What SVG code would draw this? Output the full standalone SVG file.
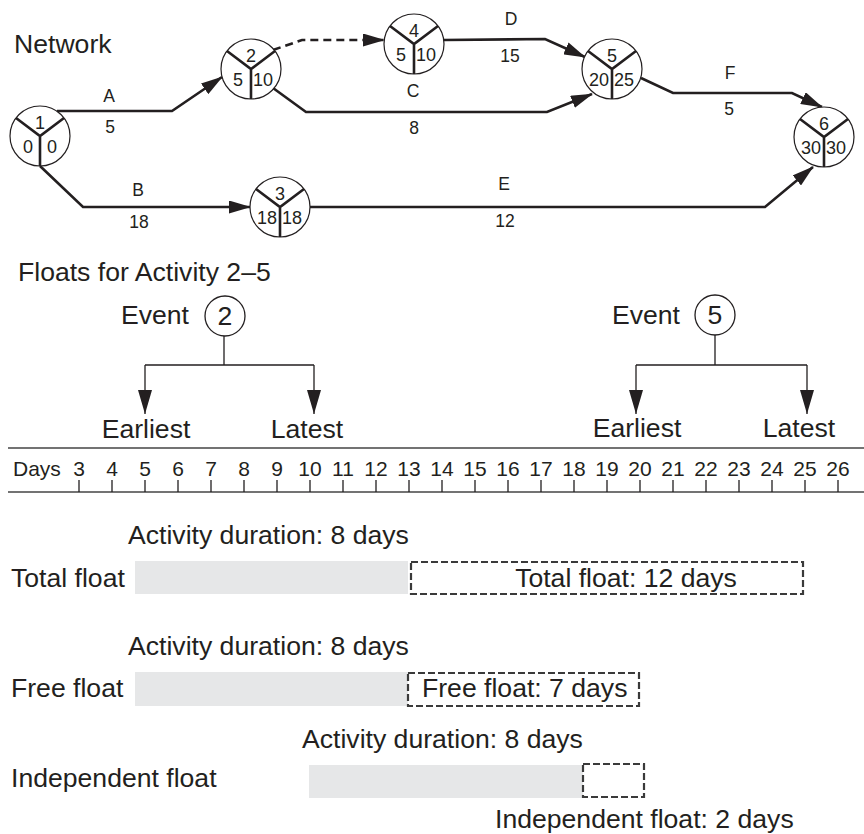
<svg xmlns="http://www.w3.org/2000/svg" width="864" height="834" viewBox="0 0 864 834">
<style>
text{font-family:"Liberation Sans",Arial,sans-serif;fill:#231f20}
.n{font-size:18px;text-anchor:middle}
.l{font-size:17.5px;text-anchor:middle}
.big{font-size:26.6px}
.mid{text-anchor:middle}
.day{font-size:21px;text-anchor:middle}
.circ{fill:#fff;stroke:#231f20;stroke-width:1.2}
.arm{stroke:#231f20;stroke-width:2.6;fill:none}
.con{stroke:#231f20;stroke-width:2.6;fill:none;marker-end:url(#ah)}
.thin{stroke:#231f20;stroke-width:1.3;fill:none}
.tarr{stroke:#231f20;stroke-width:1.3;fill:none;marker-end:url(#ah2)}
.bar{fill:#e6e7e8}
.dash{fill:none;stroke:#3a3a3a;stroke-width:2.2;stroke-dasharray:7,3}
.axis{stroke:#444;stroke-width:1.5}
</style>
<defs>
<marker id="ah" viewBox="0 0 22 13" refX="21" refY="6.5" markerWidth="22" markerHeight="13" markerUnits="userSpaceOnUse" orient="auto"><path d="M0,0 L22,6.5 L0,13 z" fill="#231f20"/></marker>
<marker id="ah2" viewBox="0 0 24 14" refX="24" refY="7" markerWidth="24" markerHeight="14" markerUnits="userSpaceOnUse" orient="auto"><path d="M0,0 L24,7 L0,14 z" fill="#231f20"/></marker>
<g id="nodeshape"><circle r="30" class="circ"/><path class="arm" d="M-24,-18 L0,0 L24,-18 M0,0 L0,30"/></g>
</defs>

<text class="big" x="14" y="53">Network</text>

<g id="connectors">
<path class="con" d="M57,111 L172,111 L222,77"/>
<path class="con" d="M40,166 L83,207 L250,207"/>
<path class="con" d="M273,50 L302,40 L384,40" stroke-dasharray="8,5"/>
<path class="con" d="M273,88 L306,112 L547,112 L592,94"/>
<path class="con" d="M444,40 L545,39 L585,57"/>
<path class="con" d="M310,207 L765,207 L813,167"/>
<path class="con" d="M641,78 L673,93 L792,93 L822,107"/>
</g>

<g id="connector-labels">
<text class="l" x="109" y="102">A</text><text class="l" x="110" y="133">5</text>
<text class="l" x="138" y="196">B</text><text class="l" x="139" y="228">18</text>
<text class="l" x="413" y="97">C</text><text class="l" x="414" y="134">8</text>
<text class="l" x="511" y="25">D</text><text class="l" x="510" y="62">15</text>
<text class="l" x="504" y="190">E</text><text class="l" x="505" y="227">12</text>
<text class="l" x="730" y="79">F</text><text class="l" x="729" y="115">5</text>
</g>

<g id="node1" transform="translate(40,136)"><use href="#nodeshape"/><text class="n" x="0" y="-7">1</text><text class="n" x="-12" y="17">0</text><text class="n" x="12" y="17">0</text></g>
<g id="node2" transform="translate(251,69)"><use href="#nodeshape"/><text class="n" x="0" y="-7">2</text><text class="n" x="-13" y="17">5</text><text class="n" x="12" y="17">10</text></g>
<g id="node3" transform="translate(280,207)"><use href="#nodeshape"/><text class="n" x="0" y="-7">3</text><text class="n" x="-13" y="17">18</text><text class="n" x="12" y="17">18</text></g>
<g id="node4" transform="translate(414,44)"><use href="#nodeshape"/><text class="n" x="0" y="-7">4</text><text class="n" x="-13" y="17">5</text><text class="n" x="12" y="17">10</text></g>
<g id="node5" transform="translate(612,69)"><use href="#nodeshape"/><text class="n" x="0" y="-7">5</text><text class="n" x="-13" y="17">20</text><text class="n" x="12" y="17">25</text></g>
<g id="node6" transform="translate(824,137)"><use href="#nodeshape"/><text class="n" x="0" y="-7">6</text><text class="n" x="-13" y="17">30</text><text class="n" x="12" y="17">30</text></g>

<text class="big" x="18" y="281">Floats for Activity 2–5</text>

<g id="event2">
<text class="big" x="121" y="324">Event</text>
<circle cx="225" cy="316" r="20" class="thin" fill="#fff"/>
<text class="big mid" x="225" y="325">2</text>
<path class="thin" d="M224,336 L224,365 M145,365 L314,365"/>
<path class="tarr" d="M145,365 L145,414"/>
<path class="tarr" d="M314,365 L314,414"/>
<text class="big mid" x="146" y="438">Earliest</text>
<text class="big mid" x="307" y="438">Latest</text>
</g>

<g id="event5">
<text class="big" x="612" y="324">Event</text>
<circle cx="715" cy="315" r="20" class="thin" fill="#fff"/>
<text class="big mid" x="715" y="324">5</text>
<path class="thin" d="M715,335 L715,365 M636,365 L807,365"/>
<path class="tarr" d="M636,365 L636,414"/>
<path class="tarr" d="M807,365 L807,414"/>
<text class="big mid" x="637" y="437">Earliest</text>
<text class="big mid" x="799" y="437">Latest</text>
</g>

<g id="scale">
<line class="axis" x1="8" y1="448" x2="864" y2="448"/>
<line class="axis" x1="8" y1="492" x2="864" y2="492"/>
<text x="13" y="476" style="font-size:21px">Days</text>
<path class="thin" d="M79,480V492 M112,480V492 M145,480V492 M178,480V492 M211,480V492 M244,480V492 M277,480V492 M310,480V492 M343,480V492 M376,480V492 M409,480V492 M442,480V492 M475,480V492 M508,480V492 M541,480V492 M574,480V492 M607,480V492 M640,480V492 M673,480V492 M706,480V492 M739,480V492 M772,480V492 M805,480V492 M838,480V492"/>
<text class="day" x="79" y="476">3</text><text class="day" x="112" y="476">4</text><text class="day" x="145" y="476">5</text><text class="day" x="178" y="476">6</text><text class="day" x="211" y="476">7</text><text class="day" x="244" y="476">8</text><text class="day" x="277" y="476">9</text><text class="day" x="310" y="476">10</text><text class="day" x="343" y="476">11</text><text class="day" x="376" y="476">12</text><text class="day" x="409" y="476">13</text><text class="day" x="442" y="476">14</text><text class="day" x="475" y="476">15</text><text class="day" x="508" y="476">16</text><text class="day" x="541" y="476">17</text><text class="day" x="574" y="476">18</text><text class="day" x="607" y="476">19</text><text class="day" x="640" y="476">20</text><text class="day" x="673" y="476">21</text><text class="day" x="706" y="476">22</text><text class="day" x="739" y="476">23</text><text class="day" x="772" y="476">24</text><text class="day" x="805" y="476">25</text><text class="day" x="838" y="476">26</text>
</g>

<g id="total-float">
<text class="big" x="128" y="544">Activity duration: 8 days</text>
<text class="big" x="11" y="587">Total float</text>
<rect class="bar" x="135" y="561" width="273" height="33"/>
<rect class="dash" x="411" y="562" width="392" height="32"/>
<text class="big mid" x="626" y="587">Total float: 12 days</text>
</g>

<g id="free-float">
<text class="big" x="128" y="655">Activity duration: 8 days</text>
<text class="big" x="11" y="697">Free float</text>
<rect class="bar" x="135" y="672" width="273" height="34"/>
<rect class="dash" x="408" y="673" width="231" height="33"/>
<text class="big" x="422" y="697">Free float: 7 days</text>
</g>

<g id="independent-float">
<text class="big" x="302" y="748">Activity duration: 8 days</text>
<text class="big" x="11" y="787">Independent float</text>
<rect class="bar" x="309" y="765" width="274" height="33"/>
<rect class="dash" x="583" y="764" width="61" height="33"/>
<text class="big" x="495" y="828">Independent float: 2 days</text>
</g>
</svg>
